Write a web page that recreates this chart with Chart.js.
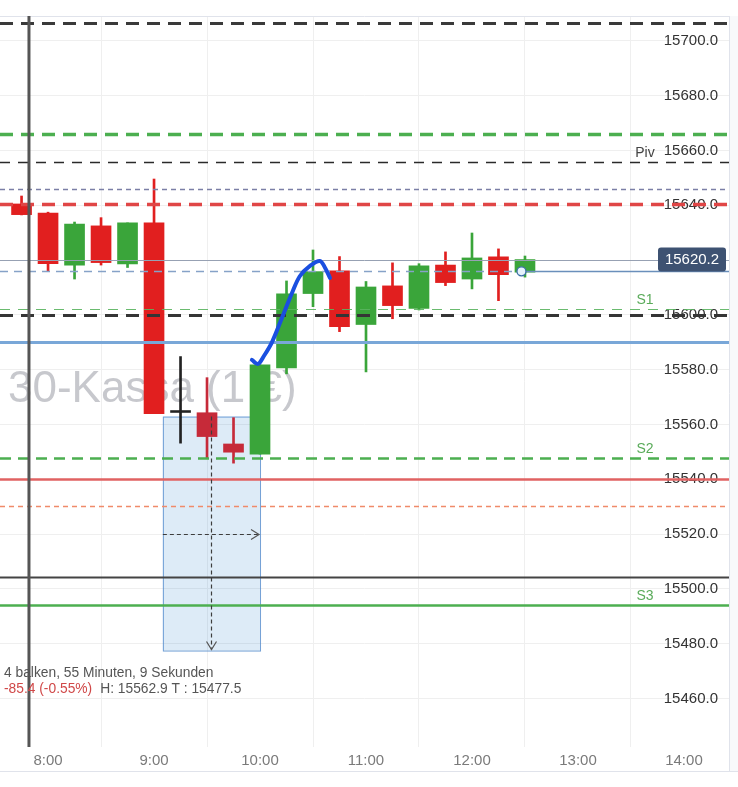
<!DOCTYPE html>
<html>
<head>
<meta charset="utf-8">
<script src="https://cdn.jsdelivr.net/npm/chart.js@4.4.1/dist/chart.umd.min.js"></script>
<style>
  html, body { margin: 0; padding: 0; background: #fff; }
  #wrap { width: 738px; height: 787px; }
</style>
</head>
<body>
<div id="wrap"><canvas id="kursCanvas" width="738" height="787"></canvas></div>
<script>
// 15-min candles, time in minutes since midnight
var times  = [465, 480, 495, 510, 525, 540, 555, 570, 585, 600, 615, 630, 645, 660, 675, 690, 705, 720, 735, 750];
var opens  = [15640.5, 15637.2, 15618.2, 15632.5, 15618.6, 15633.6, 15565.1, 15564.3, 15552.9, 15549.2,
              15580.7, 15607.8, 15616.1, 15596.5, 15610.6, 15602.4, 15618.2, 15613.1, 15621.2, 15615.6];
var highs  = [15643.4, 15637.5, 15633.9, 15635.5, 15633.6, 15649.6, 15584.8, 15577.1, 15562.5, 15581.8,
              15612.4, 15623.7, 15621.3, 15612.2, 15619.0, 15618.7, 15623.0, 15629.9, 15624.1, 15621.5];
var lows   = [15636.5, 15615.8, 15613.1, 15618.2, 15617.3, 15564.0, 15553.2, 15547.7, 15545.9, 15549.2,
              15578.5, 15603.0, 15593.9, 15579.2, 15598.6, 15601.8, 15610.7, 15609.5, 15605.2, 15613.8];
var closes = [15636.6, 15618.7, 15633.2, 15619.1, 15633.6, 15564.0, 15564.4, 15555.6, 15549.9, 15581.8,
              15607.7, 15615.8, 15595.7, 15610.2, 15603.4, 15617.9, 15611.8, 15620.8, 15614.7, 15620.2];
var dojiIndex = 6;

// horizontal levels (prices) and their labels
var levelPrices = [15706.7, 15666.2, 15655.7, 15645.9, 15640.4, 15602.1, 15600.0, 15590.0, 15547.8, 15540.0, 15530.4, 15504.4, 15494.0];
var levelNames  = ["", "", "Piv", "", "", "S1", "", "", "S2", "", "", "", "S3"];
var lastPrice = 15620.2;
var markPrice = 15615.9;
var markTime = 748;
var sessionTime = 469.2;

// measure box
var boxStart = 545, boxEnd = 600, boxHigh = 15562.9, boxLow = 15477.5;
var boxMidTime = 572;
var boxInfo = "4 balken, 55 Minuten, 9 Sekunden";

// hand drawn arrow (time, price)
var arrowTimes  = [595.4, 598.8, 602.2, 606.8, 612.4, 618.1, 622.6, 628.3, 633.9, 636.8, 639.6];
var arrowPrices = [15583.6, 15582.1, 15585.0, 15590.1, 15598.9, 15608.0, 15614.2, 15617.9, 15619.7, 15617.2, 15613.5];

var watermark = "30-Kassa (1 €)";

// styles for levels, same order as levelPrices
var levelStyles = [
  {c: "#3a3a3a", w: 3,   d: [13, 8]},
  {c: "#4caf50", w: 3.5, d: [13, 8]},
  {c: "#2a2a2a", w: 1.5, d: [10, 8]},
  {c: "#7b7fa6", w: 1.5, d: [5, 4]},
  {c: "#e04646", w: 3.5, d: [13, 8]},
  {c: "rgba(90,180,95,0.9)", w: 1, d: [10, 8]},
  {c: "#353535", w: 3,   d: [13, 8]},
  {c: "#79a7d8", w: 3,   d: []},
  {c: "#4caf50", w: 2.5, d: [11, 7]},
  {c: "#e06262", w: 2.5, d: []},
  {c: "#f08a6a", w: 1.5, d: [5, 4]},
  {c: "#444444", w: 2,   d: []},
  {c: "#4caf50", w: 2.5, d: []}
];

var RED = "#e11f1f", GREEN = "#3aa53a", RED_IN_BOX = "#c62a39";

function candleColor(i) {
    if (i === dojiIndex) return "#222";
    if (closes[i] >= opens[i]) return GREEN;
    if (times[i] > boxStart && times[i] < boxEnd) return RED_IN_BOX;
    return RED;
}
var colors = times.map(function (t, i) { return candleColor(i); });

function fmtTime(v) {
    var h = Math.floor(v / 60), m = Math.round(v % 60);
    return h + ":" + (m < 10 ? "0" + m : m);
}

function hline(ctx, area, y, color, width, dash, x0, x1) {
    ctx.save();
    ctx.beginPath();
    ctx.strokeStyle = color;
    ctx.lineWidth = width;
    ctx.setLineDash(dash);
    ctx.moveTo(x0 === undefined ? area.left : x0, y);
    ctx.lineTo(x1 === undefined ? area.right : x1, y);
    ctx.stroke();
    ctx.restore();
}

var backPlugin = {
    id: "back",
    beforeDatasetsDraw: function (chart) {
        var ctx = chart.ctx, a = chart.chartArea;
        var xs = chart.scales.x, ys = chart.scales.y;
        ctx.save();
        // frame
        ctx.fillStyle = "#f8f9fb";
        ctx.fillRect(a.right + 1, a.top, 9, 771 - a.top);
        ctx.strokeStyle = "#e0e3eb";
        ctx.lineWidth = 1;
        ctx.beginPath();
        ctx.moveTo(0, a.top + 0.5); ctx.lineTo(a.right, a.top + 0.5);
        ctx.moveTo(0, 771.5); ctx.lineTo(738, 771.5);
        ctx.moveTo(a.right + 0.5, a.top); ctx.lineTo(a.right + 0.5, 771);
        ctx.stroke();
        // watermark
        ctx.font = "44px 'Liberation Sans', Arial, sans-serif";
        ctx.fillStyle = "rgba(115,118,130,0.4)";
        ctx.textBaseline = "alphabetic";
        ctx.fillText(watermark, 8, 402);
        // measure box
        var bx0 = xs.getPixelForValue(boxStart), bx1 = xs.getPixelForValue(boxEnd);
        var by0 = ys.getPixelForValue(boxHigh), by1 = ys.getPixelForValue(boxLow);
        ctx.fillStyle = "rgba(30,120,200,0.15)";
        ctx.fillRect(bx0, by0, bx1 - bx0, by1 - by0);
        ctx.strokeStyle = "rgba(70,130,200,0.75)";
        ctx.strokeRect(bx0 + 0.5, by0 + 0.5, bx1 - bx0, by1 - by0);
        ctx.restore();
    },
    afterDatasetDraw: function (chart, args) {
        if (args.index !== 1) return;
        var ctx = chart.ctx, a = chart.chartArea;
        var xs = chart.scales.x, ys = chart.scales.y;
        levelPrices.forEach(function (p, i) {
            var s = levelStyles[i];
            hline(ctx, a, Math.round(ys.getPixelForValue(p)) + 0.5, s.c, s.w, s.d);
        });
        // last price line
        hline(ctx, a, Math.round(ys.getPixelForValue(lastPrice)) + 0.5, "#97a1b3", 1, []);
        // marker line, dashed then solid
        var my = Math.round(ys.getPixelForValue(markPrice)) + 0.5;
        var mx = xs.getPixelForValue(markTime);
        hline(ctx, a, my, "#86a2c8", 1.5, [8, 6], a.left, mx);
        hline(ctx, a, my, "#6a8fbb", 1.5, [], mx, a.right);
        // session line
        var sx = xs.getPixelForValue(sessionTime);
        ctx.save();
        ctx.strokeStyle = "#555";
        ctx.lineWidth = 3;
        ctx.beginPath();
        ctx.moveTo(sx, a.top); ctx.lineTo(sx, a.bottom);
        ctx.stroke();
        ctx.restore();
    },
    afterDatasetsDraw: function (chart) {
        var ctx = chart.ctx, a = chart.chartArea;
        var xs = chart.scales.x, ys = chart.scales.y;
        var bx0 = xs.getPixelForValue(boxStart), bx1 = xs.getPixelForValue(boxEnd);
        var by0 = ys.getPixelForValue(boxHigh), by1 = ys.getPixelForValue(boxLow);
        var vx = Math.round(xs.getPixelForValue(boxMidTime)) + 0.5;
        var hy = Math.round(ys.getPixelForValue((boxHigh + boxLow) / 2)) + 0.5;
        ctx.save();
        ctx.strokeStyle = "#3d3d3d";
        ctx.lineWidth = 1.2;
        ctx.setLineDash([4, 3]);
        ctx.beginPath();
        ctx.moveTo(vx, by0); ctx.lineTo(vx, by1 - 1);
        ctx.moveTo(bx0, hy); ctx.lineTo(bx1 - 1, hy);
        ctx.stroke();
        ctx.setLineDash([]);
        ctx.strokeStyle = "#555";
        ctx.beginPath();
        ctx.moveTo(vx - 5, by1 - 9); ctx.lineTo(vx, by1 - 1); ctx.lineTo(vx + 5, by1 - 9);
        ctx.moveTo(bx1 - 9, hy - 5); ctx.lineTo(bx1 - 1, hy); ctx.lineTo(bx1 - 9, hy + 5);
        ctx.stroke();

        // marker circle
        var my = ys.getPixelForValue(markPrice), mx = xs.getPixelForValue(markTime);
        ctx.beginPath();
        ctx.arc(mx, my, 4.5, 0, Math.PI * 2);
        ctx.fillStyle = "#e6f2fc";
        ctx.fill();
        ctx.strokeStyle = "#3a6ea5";
        ctx.lineWidth = 1.3;
        ctx.stroke();

        // level names
        ctx.font = "14px 'Liberation Sans', Arial, sans-serif";
        ctx.textAlign = "center";
        ctx.textBaseline = "middle";
        levelPrices.forEach(function (p, i) {
            if (!levelNames[i]) return;
            ctx.fillStyle = levelNames[i] === "Piv" ? "#444" : "#5aab5a";
            ctx.fillText(levelNames[i], a.right - 84, ys.getPixelForValue(p) - 9);
        });

        // last price tag
        var ly = ys.getPixelForValue(lastPrice);
        ctx.fillStyle = "#3e5272";
        ctx.beginPath();
        if (ctx.roundRect) ctx.roundRect(658, ly - 12, 68, 24, 3); else ctx.rect(658, ly - 12, 68, 24);
        ctx.fill();
        ctx.fillStyle = "#fff";
        ctx.font = "15px 'Liberation Sans', Arial, sans-serif";
        ctx.fillText(lastPrice.toFixed(1), 692, ly + 0.5);

        // measure info text
        var diff = boxLow - boxHigh;
        var pct = diff / boxHigh * 100;
        ctx.textAlign = "left";
        ctx.font = "13.8px 'Liberation Sans', Arial, sans-serif";
        ctx.fillStyle = "#555";
        ctx.fillText(boxInfo, 4, 673);
        var t1 = diff.toFixed(1) + " (" + pct.toFixed(2) + "%)";
        ctx.fillStyle = "#d04848";
        ctx.fillText(t1, 4, 689);
        ctx.fillStyle = "#555";
        ctx.fillText("H: " + boxHigh.toFixed(1) + " T : " + boxLow.toFixed(1), 4 + ctx.measureText(t1).width + 8, 689);
        ctx.restore();
    }
};

Chart.defaults.font.family = "'Liberation Sans', Arial, sans-serif";

var canvas = document.getElementById("kursCanvas");
var kursChart = new Chart(canvas, {
    type: "bar",
    data: {
        datasets: [{
            label: "arrow",
            type: "line",
            order: 0,
            data: arrowTimes.map(function (t, i) { return {x: t, y: arrowPrices[i]}; }),
            borderColor: "#1a4fe0",
            borderWidth: 4,
            pointRadius: 0,
            tension: 0.35,
            borderCapStyle: "round",
            borderJoinStyle: "round",
            fill: false
        }, {
            label: "bodies",
            order: 1,
            data: times.map(function (t, i) { return {x: t, y: [opens[i], closes[i]]}; }),
            backgroundColor: colors,
            barThickness: 20,
            grouped: false,
            borderWidth: 0,
            borderSkipped: false
        }, {
            label: "wicks",
            order: 2,
            data: times.map(function (t, i) { return {x: t, y: [lows[i], highs[i]]}; }),
            backgroundColor: colors,
            barThickness: 2,
            grouped: false,
            borderWidth: 0,
            borderSkipped: false
        }]
    },
    options: {
        responsive: false,
        animation: false,
        layout: { padding: { left: 0, right: 9, top: 16, bottom: 16 } },
        plugins: {
            legend: { display: false },
            tooltip: { enabled: false }
        },
        scales: {
            x: {
                type: "linear",
                position: "bottom",
                min: 452.8,
                max: 865.5,
                offset: false,
                grid: { color: "#efefef", drawTicks: false },
                border: { display: false },
                ticks: {
                    stepSize: 60,
                    includeBounds: false,
                    maxRotation: 0,
                    padding: 5,
                    color: "#7a7a7a",
                    font: { size: 15 },
                    callback: function (v) { return fmtTime(v); }
                },
                afterFit: function (s) { s.height = 24; }
            },
            y: {
                type: "linear",
                position: "right",
                min: 15442.3,
                max: 15709.1,
                grid: { color: "#efefef", drawTicks: false },
                border: { display: false },
                ticks: {
                    stepSize: 20,
                    includeBounds: false,
                    mirror: true,
                    padding: -11,
                    color: "#333",
                    font: { size: 15 },
                    callback: function (v) { return v.toFixed(1); }
                },
                afterFit: function (s) { s.width = 0; }
            }
        }
    },
    plugins: [backPlugin]
});
</script>
</body>
</html>
